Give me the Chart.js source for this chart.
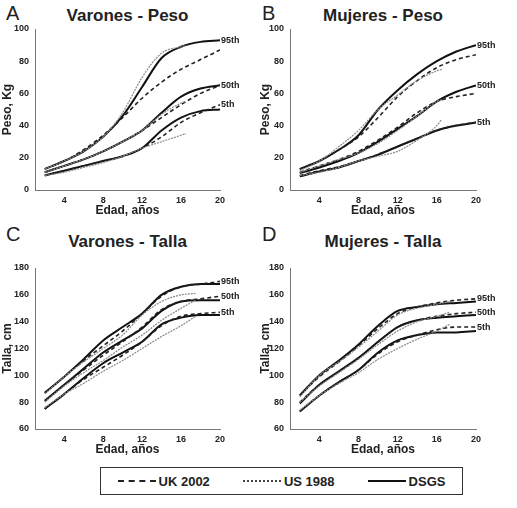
<!DOCTYPE html>
<html><head><meta charset="utf-8">
<script src="https://cdn.jsdelivr.net/npm/chart.js@4"></script>
<style>
body{margin:0;background:#fff;font-family:Arial,"Liberation Sans",sans-serif;}
#wrap{position:relative;width:517px;height:508px;overflow:hidden;}
canvas{position:absolute;}
.ttl{position:absolute;font-weight:bold;font-size:17px;color:#222;text-align:center;}
.let{position:absolute;font-size:20px;color:#222;}
#leg{position:absolute;left:100px;top:467px;width:361px;height:26px;border:1px solid #333;display:flex;align-items:center;justify-content:space-around;font-weight:bold;font-size:13px;color:#222;}
.it{display:flex;align-items:center;gap:3px}
.ln{width:38px;height:0;}
</style></head><body>
<div id="wrap">
<div class="let" style="left:6px;top:2px">A</div>
<div class="let" style="left:262px;top:2px">B</div>
<div class="let" style="left:6px;top:223px">C</div>
<div class="let" style="left:262px;top:223px">D</div>
<div class="ttl" style="left:35px;width:185px;top:6px">Varones - Peso</div>
<div class="ttl" style="left:290px;width:186px;top:6px">Mujeres - Peso</div>
<div class="ttl" style="left:35px;width:185px;top:232px">Varones - Talla</div>
<div class="ttl" style="left:290px;width:186px;top:232px">Mujeres - Talla</div>
<canvas id="cA" width="258" height="220" style="left:0;top:0"></canvas>
<canvas id="cB" width="259" height="220" style="left:258px;top:0"></canvas>
<canvas id="cC" width="258" height="240" style="left:0;top:220px"></canvas>
<canvas id="cD" width="259" height="240" style="left:258px;top:220px"></canvas>
<div id="leg">
<div class="it"><div class="ln" style="border-top:2px dashed #222"></div>UK 2002</div>
<div class="it"><div class="ln" style="border-top:2px dotted #444"></div>US 1988</div>
<div class="it"><div class="ln" style="border-top:2.5px solid #111"></div>DSGS</div>
</div>
</div>
<script>
const ages=[2,4,6,8,10,12,14,16,18,20];
const xTicks=[4,8,12,16,20];
const pctLabels=['95th','50th','5th'];
// Panel A: Varones - Peso
const usAgesA=[2,4,6,8,10,12,14,16,16.5];
const dsgsA95=[13,18,24,33,46,64,82,89,92,93], ukA95=[13,18,25,34,45,57,67,75,81,87], usA95=[13,18,24,33,48,70,85,89,90];
const dsgsA50=[11,15,19,24,30,37,48,58,63,65], ukA50=[11,15,19,24,30,37,45,53,60,65], usA50=[11,15,19,24,30,37,47,54,55];
const dsgsA5=[9,12,15,18,21,26,37,45,49,50], ukA5=[9,12,15,18,21,26,33,42,48,53], usA5=[9,11,14,17,21,26,30,34,35];
// Panel B: Mujeres - Peso
const usAgesB=[2,4,6,8,10,12,14,16,16.5];
const dsgsB95=[13,18,25,34,50,62,72,80,86,90], ukB95=[13,18,25,33,45,58,68,76,81,84], usB95=[12,18,27,37,50,59,68,74,75];
const dsgsB50=[10.5,14,18,23,30,38,46,55,61,65], ukB50=[11,15,19,24,31,39,48,55,58,60], usB50=[11,15,19,23,29,37,46,55,56];
const dsgsB5=[8.5,11.5,14,18,22,27,32,37,40,42], ukB5=[9,12,14.5,18,22,27,32,37,40,42], usB5=[9,11,14,18,21,24,31,40,44];
// Panel C: Varones - Talla
const usAgesC=[2,4,6,8,10,12,14,16,17.5];
const dsgsC95=[87,99,112,126,136,146,160,166,168,168], ukC95=[87,99,111,122,133,146,159,166,168,170], usC95=[86,99,110,120,130,145,155,160,161];
const dsgsC50=[81,93,105,117,126,135,148,155,156,156], ukC50=[81,93,104,115,125,136,149,155,157,159], usC50=[80,92,102,111,121,130,141,150,156];
const dsgsC5=[75,86,98,109,117,125,138,143,145,145], ukC5=[75,86,97,106,115,125,137,144,146,147], usC5=[76,86,94,103,111,120,129,137,144];
// Panel D: Mujeres - Talla
const usAgesD=[2,4,6,8,10,12,14,16,17.3];
const dsgsD95=[85,100,111,123,137,148,151,153,154,155], ukD95=[85,99,110,122,135,146,151,154,156,157], usD95=[84,100,110,121,133,145,150,153,155];
const dsgsD50=[79,93,103,113,125,136,141,143,144,145], ukD50=[80,93,103,113,125,136,141,144,146,147], usD50=[80,92,102,112,123,133,140,144,147];
const dsgsD5=[73,85,95,104,117,126,130,132,132,133], ukD5=[73,85,95,104,116,125,130,134,136,136], usD5=[74,85,94,102,112,120,127,133,138];

function xy(xs,ys){return xs.map((x,i)=>({x,y:ys[i]}));}
function sets(usAges,groups){
  const out=[];
  groups.forEach(g=>{
    out.push({data:xy(usAges,g[2]),borderColor:'#8a8a8a',borderWidth:1.2,borderDash:[2,1]});
    out.push({data:xy(ages,g[1]),borderColor:'#222',borderWidth:1.6,borderDash:[4,3]});
    out.push({data:xy(ages,g[0]),borderColor:'#111',borderWidth:2});
  });
  return out;
}
const lblPlugin={id:'pl',afterDatasetsDraw(c){
  const ctx=c.ctx,xs=c.scales.x,ys=c.scales.y;
  ctx.save();ctx.font='bold 9px Arial';ctx.fillStyle='#222';ctx.textBaseline='middle';
  for(let g=0;g<3;g++){
    const d=c.data.datasets;
    const v=Math.max(d[g*3+1].data[9].y,d[g*3+2].data[9].y);
    ctx.fillText(pctLabels[g],xs.getPixelForValue(20)+1,ys.getPixelForValue(v));
  }
  ctx.restore();
}};
function make(id,usAges,groups,ymin,ymax,ytitle,padTop,padRight,yw,padBottom){
  new Chart(document.getElementById(id),{type:'line',
    data:{datasets:sets(usAges,groups)},
    plugins:[lblPlugin],
    options:{responsive:false,animation:false,
      layout:{padding:{top:padTop,right:padRight,left:0,bottom:padBottom}},
      plugins:{legend:{display:false},tooltip:{enabled:false}},
      elements:{point:{radius:0},line:{tension:0.4,cubicInterpolationMode:'monotone',fill:false}},
      scales:{
        x:{type:'linear',min:1,max:20,afterBuildTicks(s){s.ticks=xTicks.map(v=>({value:v}));},
          grid:{display:false,drawTicks:true,tickLength:3,color:'#777'},border:{color:'#777'},
          ticks:{color:'#222',font:{size:9,weight:'bold'},padding:2,maxRotation:0},
          title:{display:true,text:'Edad, años',color:'#222',font:{size:12,weight:'bold'},padding:{top:3,bottom:0}},
          afterFit(s){s.height=28;}},
        y:{min:ymin,max:ymax,ticks:{stepSize:20,color:'#222',font:{size:9,weight:'bold'},padding:3},
          grid:{display:false,tickLength:3},border:{color:'#777'},
          title:{display:true,text:ytitle,color:'#222',font:{size:12,weight:'bold'},padding:{top:0,bottom:0}},
          afterFit(s){s.width=yw;}}
      }}});
}
make('cA',usAgesA,[[dsgsA95,ukA95,usA95],[dsgsA50,ukA50,usA50],[dsgsA5,ukA5,usA5]],0,100,'Peso, Kg',29,38,35,2);
make('cB',usAgesB,[[dsgsB95,ukB95,usB95],[dsgsB50,ukB50,usB50],[dsgsB5,ukB5,usB5]],0,100,'Peso, Kg',29,41,32,2);
make('cC',usAgesC,[[dsgsC95,ukC95,usC95],[dsgsC50,ukC50,usC50],[dsgsC5,ukC5,usC5]],60,180,'Talla, cm',48,38,35,3);
make('cD',usAgesD,[[dsgsD95,ukD95,usD95],[dsgsD50,ukD50,usD50],[dsgsD5,ukD5,usD5]],60,180,'Talla, cm',48,41,32,3);
</script>
</body></html>
